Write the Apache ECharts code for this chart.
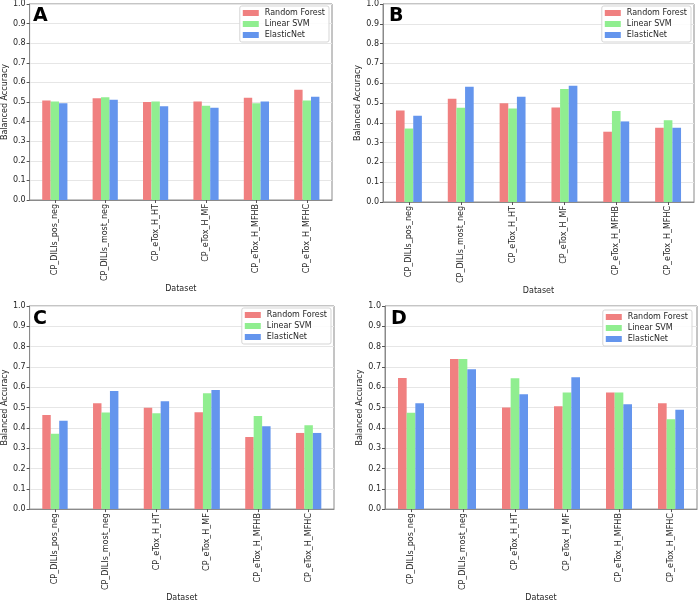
<!DOCTYPE html>
<html>
<head>
<meta charset="utf-8">
<script src="https://cdn.jsdelivr.net/npm/echarts@6/dist/echarts.min.js"></script>
<style>html,body{margin:0;padding:0;background:#fff}#c{width:699px;height:603px}</style>
</head>
<body>
<div id="c"></div>
<script>
const categories = ['CP_DILIs_pos_neg','CP_DILIs_most_neg','CP_eTox_H_HT','CP_eTox_H_MF','CP_eTox_H_MFHB','CP_eTox_H_MFHC'];
const seriesNames = ['Random Forest','Linear SVM','ElasticNet'];
const yTicks = [0,0.1,0.2,0.3,0.4,0.5,0.6,0.7,0.8,0.9,1.0];
const panelLabels = ['A','B','C','D'];

const rfA  = [0.508,0.519,0.500,0.502,0.522,0.563];
const svmA = [0.503,0.524,0.503,0.481,0.493,0.508];
const enA  = [0.493,0.512,0.478,0.471,0.503,0.527];

const rfB  = [0.462,0.521,0.499,0.477,0.355,0.375];
const svmB = [0.371,0.476,0.472,0.571,0.459,0.413];
const enB  = [0.435,0.582,0.531,0.587,0.407,0.375];

const rfC  = [0.463,0.521,0.499,0.477,0.355,0.375];
const svmC = [0.371,0.476,0.472,0.571,0.459,0.413];
const enC  = [0.435,0.582,0.531,0.587,0.408,0.375];

const rfD  = [0.646,0.739,0.500,0.506,0.574,0.521];
const svmD = [0.474,0.739,0.644,0.574,0.574,0.443];
const enD  = [0.521,0.689,0.565,0.649,0.516,0.489];

const panelData = [[rfA,svmA,enA],[rfB,svmB,enB],[rfC,svmC,enC],[rfD,svmD,enD]];
const colors = ['#F08080','#90EE90','#6495ED'];

const FONT = 'DejaVu Sans';
const TXT = '#262626';
const grids = [
  {left:27, top:3, width:305, height:197},
  {left:383, top:3, width:311, height:199},
  {left:27, top:306, width:307, height:208},
  {left:385, top:306, width:312, height:207}
];
const legendPos = [
  {right:370, top:6},
  {right:8, top:6},
  {right:368, top:308},
  {right:7, top:310}
];
const xNameGap = [76, 78, 80, 80];

const option = {
  animation:false,
  backgroundColor:'#fff',
  grid: grids.map(g => Object.assign({show:true, borderColor:'#8a8a8a', borderWidth:1, containLabel:false}, g)),
  xAxis: grids.map((g,i) => ({
    type:'category', gridIndex:i, data:categories,
    name:'Dataset', nameLocation:'middle', nameGap:xNameGap[i],
    nameTextStyle:{fontFamily:FONT, fontSize:8, color:TXT},
    axisLine:{show:true, lineStyle:{color:'#8a8a8a', width:1}},
    axisTick:{show:true, alignWithLabel:true, length:3, lineStyle:{color:'#555'}},
    axisLabel:{rotate:90, fontFamily:FONT, fontSize:8, color:TXT, margin:4, interval:0},
    splitLine:{show:false}
  })),
  yAxis: grids.map((g,i) => ({
    type:'value', gridIndex:i, min:0, max:1, interval:0.1,
    name:'Balanced Accuracy', nameLocation:'middle', nameGap:17,
    nameTextStyle:{fontFamily:FONT, fontSize:8, color:TXT},
    axisLine:{show:true, lineStyle:{color:'#8a8a8a', width:1}},
    axisTick:{show:true, length:3, lineStyle:{color:'#555'}},
    axisLabel:{fontFamily:FONT, fontSize:8, color:TXT, margin:4, formatter:v => v.toFixed(1)},
    splitLine:{show:true, lineStyle:{color:'#e6e6e6', width:1}}
  })),
  legend: legendPos.map(p => Object.assign({
    data:seriesNames, orient:'vertical', itemWidth:16, itemHeight:6, itemGap:3,
    padding:[3,4,3,3], borderColor:'#d5d5d5', borderWidth:1, borderRadius:2,
    backgroundColor:'rgba(255,255,255,0.85)', icon:'rect', selectedMode:false,
    textStyle:{fontFamily:FONT, fontSize:8, color:TXT, padding:[0,0,0,1]}
  }, p)),
  series: [],
  graphic: grids.map((g,i) => ({
    type:'text', left:g.left+6, top:g.top+4, z:100,
    style:{text:panelLabels[i], font:'bold 19px "'+FONT+'"', fill:'#000'}
  }))
};

panelData.forEach((arrs,i) => {
  arrs.forEach((vals,j) => {
    option.series.push({
      type:'bar', name:seriesNames[j], xAxisIndex:i, yAxisIndex:i,
      data:vals, barGap:'0%', barCategoryGap:'50%',
      itemStyle:{color:colors[j]}
    });
  });
});

const chart = echarts.init(document.getElementById('c'), null, {renderer:'canvas'});
chart.setOption(option);
</script>
</body>
</html>
